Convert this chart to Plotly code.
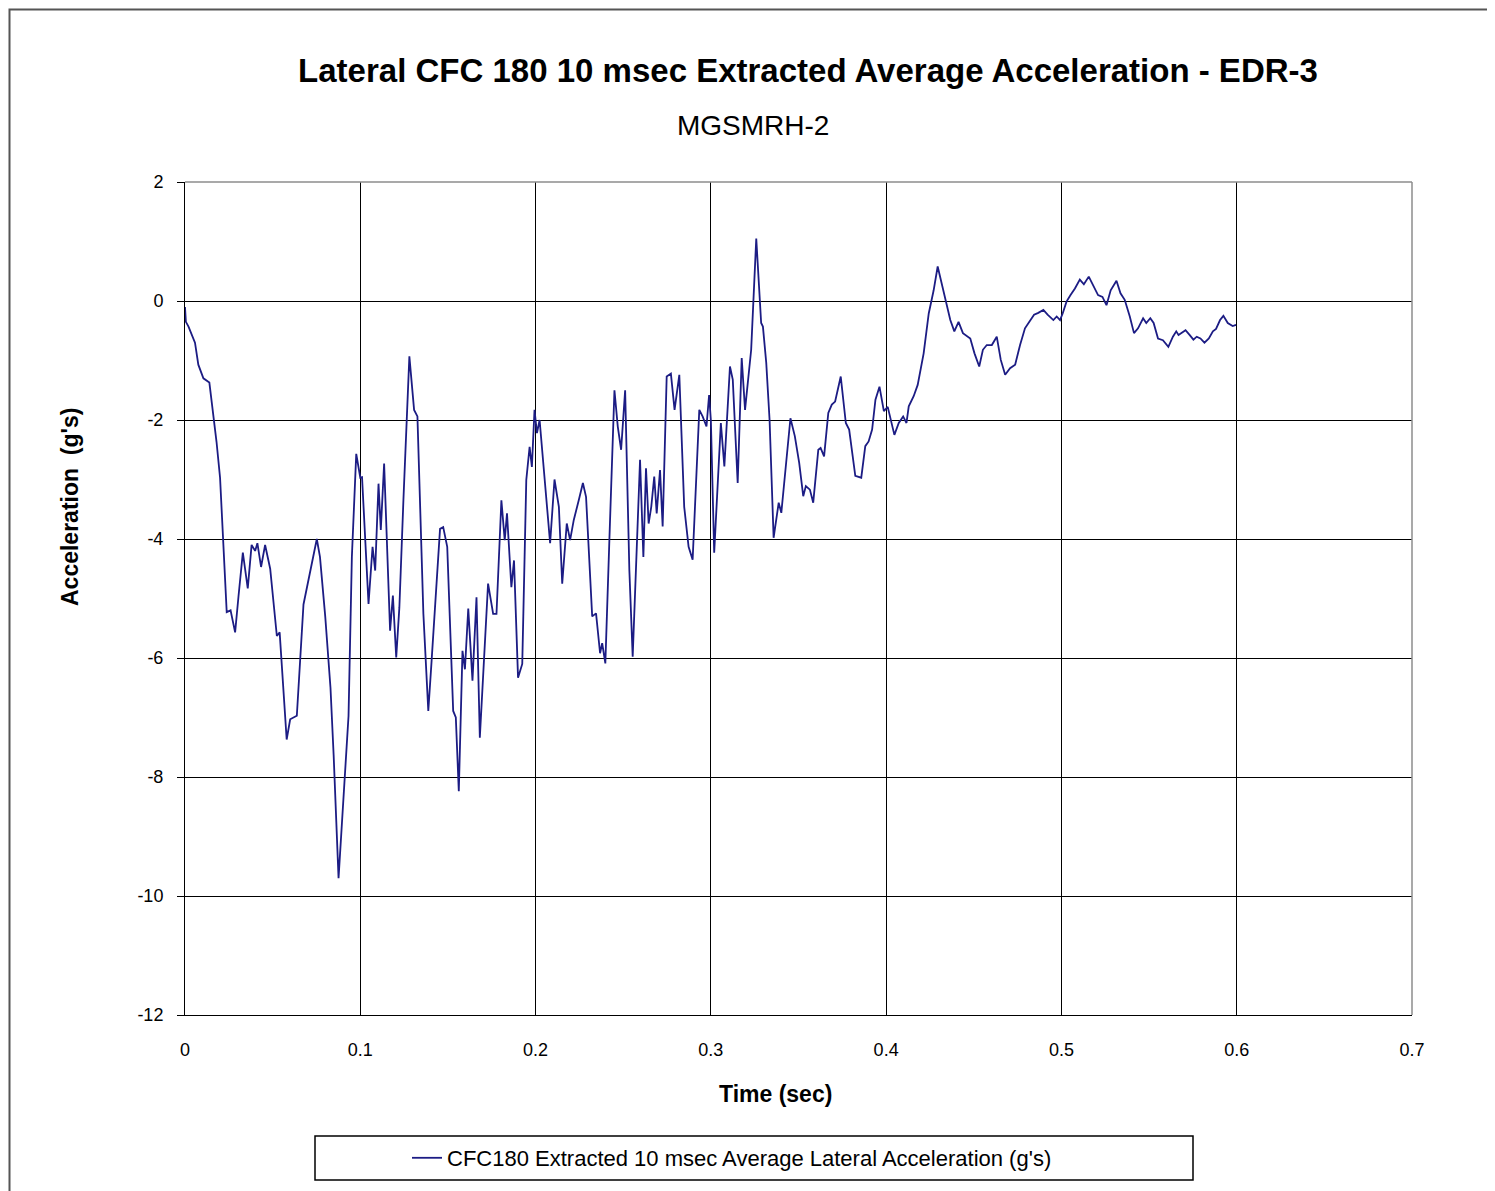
import plotly.graph_objects as go

time_s = [
    0.0, 0.0005, 0.002, 0.0057, 0.0076, 0.0105, 0.0139, 0.0162, 0.018, 0.020, 0.0215, 0.0238,
    0.026, 0.0286, 0.0305, 0.033, 0.0358, 0.038, 0.040, 0.0413, 0.0434, 0.0457, 0.0486,
    0.0524, 0.054, 0.058, 0.060, 0.0638, 0.0676, 0.0724, 0.0752, 0.077, 0.080, 0.083,
    0.0848, 0.0876, 0.0905, 0.0933, 0.0952, 0.0977, 0.100,
    0.101, 0.1047, 0.107, 0.1085, 0.1104, 0.1117, 0.1136, 0.117, 0.1186, 0.1205, 0.1223,
    0.1246, 0.128, 0.1307, 0.1326, 0.136, 0.1388, 0.1407, 0.1455, 0.1473, 0.1496, 0.153,
    0.1545, 0.1562, 0.1583, 0.1597, 0.1616, 0.164, 0.1663, 0.1682, 0.1705, 0.1729, 0.1758,
    0.1777, 0.1805, 0.1824, 0.1837, 0.1862, 0.1877, 0.19, 0.1924, 0.1947, 0.1966, 0.1979,
    0.1994, 0.2008, 0.2023, 0.2046, 0.2083, 0.2108, 0.2133, 0.2152, 0.2178, 0.2197, 0.2218,
    0.2247, 0.227, 0.2288, 0.2323, 0.2345, 0.2368, 0.238, 0.2398, 0.2421, 0.245, 0.2469,
    0.2488, 0.2511, 0.2535, 0.2554, 0.2573, 0.2596, 0.2615, 0.263, 0.2645, 0.266, 0.2677,
    0.2691, 0.271, 0.2725, 0.2748, 0.2772, 0.2793, 0.282, 0.2848, 0.2873, 0.2896, 0.2934,
    0.2953, 0.2975, 0.299, 0.3, 0.3019, 0.3038, 0.3057, 0.3077, 0.3109, 0.3125, 0.3153,
    0.3176, 0.3195, 0.323, 0.3259, 0.3287, 0.3297, 0.3316, 0.3335, 0.3358, 0.3387, 0.3402,
    0.3427, 0.3454, 0.3479, 0.3504, 0.3527, 0.3542, 0.3565, 0.3584, 0.3613, 0.3626, 0.3646,
    0.367, 0.369, 0.3709, 0.3741, 0.377, 0.3789, 0.3824, 0.3858, 0.3881, 0.39, 0.392,
    0.3939, 0.3962, 0.3987, 0.4009, 0.4047, 0.4072, 0.4097, 0.4116, 0.4129, 0.4157, 0.418,
    0.4214, 0.4243, 0.4271, 0.4294, 0.4313, 0.4337, 0.4366, 0.4389, 0.4413, 0.4438, 0.4464,
    0.448, 0.4504, 0.4531, 0.4552, 0.4574, 0.4603, 0.4631, 0.4654, 0.4679, 0.4707, 0.4736,
    0.4764, 0.4792, 0.4817, 0.4844, 0.4868, 0.4897, 0.4921, 0.4954, 0.4973, 0.4992, 0.5007,
    0.5029, 0.5052, 0.5077, 0.5105, 0.5128, 0.5156, 0.5181, 0.5209, 0.5234, 0.5257, 0.5281,
    0.5314, 0.5337, 0.5361, 0.539, 0.5414, 0.5437, 0.5466, 0.5484, 0.5507, 0.5526, 0.5551,
    0.5579, 0.561, 0.5636, 0.5655, 0.5668, 0.5708, 0.5731, 0.5753, 0.5772, 0.5793, 0.5816,
    0.5841, 0.5864, 0.5882, 0.5905, 0.5924, 0.5949, 0.5977, 0.5996,
]

accel_g = [
    -0.1, -0.35, -0.43, -0.7, -1.07, -1.3, -1.37, -1.9, -2.37, -2.97, -3.9, -5.23,
    -5.2, -5.57, -4.97, -4.23, -4.83, -4.1, -4.2, -4.07, -4.47, -4.1, -4.5,
    -5.63, -5.57, -7.37, -7.03, -6.97, -5.1, -4.37, -4.0, -4.3, -5.3, -6.5,
    -7.63, -9.7, -8.37, -6.97, -4.3, -2.57, -2.97,
    -2.96, -5.09, -4.13, -4.53, -3.07, -3.85, -2.73, -5.54, -4.95, -5.99, -5.15,
    -3.35, -0.93, -1.83, -1.94, -5.26, -6.89, -6.04, -3.83, -3.8, -4.13, -6.89,
    -7.0, -8.24, -5.88, -6.19, -5.17, -6.38, -4.98, -7.34, -6.04, -4.75, -5.26,
    -5.26, -3.35, -4.02, -3.57, -4.81, -4.36, -6.33, -6.1, -3.01, -2.45, -2.79,
    -1.83, -2.22, -2.0, -2.78, -4.07, -3.0, -3.46, -4.75, -3.74, -4.02, -3.68,
    -3.34, -3.06, -3.29, -5.3, -5.25, -5.92, -5.75, -6.09, -4.02, -1.5, -2.11,
    -2.5, -1.5, -4.52, -5.98, -4.58, -2.67, -4.3, -2.81, -3.74, -3.46, -2.95,
    -3.57, -2.84, -3.79, -1.27, -1.22, -1.83, -1.24, -3.46, -4.13, -4.35, -1.83,
    -1.94, -2.11, -1.58, -2.0, -4.23, -3.22, -2.05, -2.78, -1.1, -1.32, -3.06,
    -0.96, -1.83, -0.82, 1.05, -0.37, -0.43, -1.04, -2.0, -3.98, -3.39, -3.56,
    -2.83, -1.97, -2.27, -2.72, -3.28, -3.11, -3.17, -3.39, -2.5, -2.47, -2.61,
    -1.88, -1.74, -1.69, -1.27, -2.05, -2.16, -2.94, -2.97, -2.44, -2.36, -2.16,
    -1.66, -1.44, -1.85, -1.78, -2.25, -2.05, -1.94, -2.05, -1.77, -1.6, -1.41,
    -0.88, -0.21, 0.18, 0.58, 0.35, 0.07, -0.32, -0.51, -0.35, -0.54, -0.6,
    -0.63, -0.88, -1.1, -0.82, -0.74, -0.74, -0.6, -0.99, -1.24, -1.13, -1.07,
    -0.74, -0.46, -0.35, -0.23, -0.2, -0.15, -0.23, -0.32, -0.26, -0.32, -0.21,
    -0.01, 0.1, 0.21, 0.36, 0.28, 0.41, 0.27, 0.1, 0.07, -0.07, 0.18,
    0.34, 0.13, 0.02, -0.26, -0.54, -0.46, -0.29, -0.37, -0.29, -0.37, -0.63,
    -0.66, -0.77, -0.6, -0.51, -0.57, -0.49, -0.57, -0.65, -0.6, -0.63, -0.7,
    -0.63, -0.51, -0.47, -0.32, -0.25, -0.37, -0.42, -0.4,
]

x_tick_vals = [0, 0.1, 0.2, 0.3, 0.4, 0.5, 0.6, 0.7]
x_tick_text = ["0", "0.1", "0.2", "0.3", "0.4", "0.5", "0.6", "0.7"]
y_tick_vals = [2, 0, -2, -4, -6, -8, -10, -12]
y_tick_text = ["2", "0", "-2", "-4", "-6", "-8", "-10", "-12"]

FONT = "Liberation Sans, Arial, sans-serif"

fig = go.Figure()
fig.add_trace(go.Scatter(
    x=time_s, y=accel_g, mode="lines",
    name="CFC180 Extracted 10 msec Average Lateral Acceleration (g's)",
    line=dict(color="#1c1c84", width=1.8),
))

W, H = 1495, 1191
OFF = 8  # page body margin
# target screen positions of plot area: x 185..1412, y 182..1015
L = 185 - OFF
T = 182 - OFF
R = W - (1412 - OFF)
B = H - (1015 - OFF)
pw, ph = W - L - R, H - T - B

def px_x(p):
    return (p - OFF - L) / pw

def px_y(p):
    return (H - B - (p - OFF)) / ph

fig.update_layout(
    width=W, height=H,
    margin=dict(l=L, r=R, t=T, b=B),
    paper_bgcolor="white", plot_bgcolor="white",
    font=dict(family=FONT, color="black"),
    showlegend=True,
    legend=dict(
        x=px_x(407), y=px_y(1158), xanchor="left", yanchor="middle",
        bgcolor="rgba(0,0,0,0)", borderwidth=0,
        font=dict(size=22, family=FONT, color="black"),
    ),
    title=dict(
        text="<b>Lateral CFC 180 10 msec Extracted Average Acceleration - EDR-3</b>",
        x=px_x(808), xanchor="center", xref="paper",
        y=1 - (70 - OFF) / H, yanchor="middle", yref="container",
        font=dict(size=33, family=FONT, color="black"),
    ),
    xaxis=dict(
        range=[0, 0.7], tickvals=x_tick_vals, ticktext=x_tick_text,
        showgrid=True, gridcolor="black", gridwidth=1,
        showline=True, linecolor="black", linewidth=1,
        ticks="", ticklabelstandoff=18,
        tickfont=dict(size=18, family=FONT, color="black"),
        zeroline=False,
    ),
    yaxis=dict(
        range=[-12, 2], tickvals=y_tick_vals, ticktext=y_tick_text,
        showgrid=True, gridcolor="black", gridwidth=1,
        showline=True, linecolor="black", linewidth=1,
        ticks="outside", ticklen=7, tickcolor="black", ticklabelstandoff=10,
        tickfont=dict(size=18, family=FONT, color="black"),
        zeroline=False,
    ),
)

fig.add_annotation(
    text="MGSMRH-2", xref="paper", yref="paper",
    x=px_x(753), y=px_y(125), xanchor="center", yanchor="middle",
    showarrow=False, font=dict(size=28, family=FONT, color="black"),
)
fig.add_annotation(
    text="<b>Time (sec)</b>", xref="paper", yref="paper",
    x=px_x(775), y=px_y(1094), xanchor="center", yanchor="middle",
    showarrow=False, font=dict(size=23, family=FONT, color="black"),
)
fig.add_annotation(
    text="<b>Acceleration  (g's)</b>", xref="paper", yref="paper",
    x=px_x(70), y=px_y(507), xanchor="center", yanchor="middle", textangle=-90,
    showarrow=False, font=dict(size=23, family=FONT, color="black"),
)

# gray top and right plot border
fig.add_shape(type="line", xref="paper", yref="paper", x0=0, x1=1, y0=1, y1=1,
              line=dict(color="#8c8c8c", width=1.5), layer="above")
fig.add_shape(type="line", xref="paper", yref="paper", x0=1, x1=1, y0=0, y1=1,
              line=dict(color="#8c8c8c", width=1.5), layer="above")
# legend box
fig.add_shape(type="rect", xref="paper", yref="paper",
              x0=px_x(315), x1=px_x(1193), y0=px_y(1180), y1=px_y(1136),
              line=dict(color="black", width=1.5), fillcolor="rgba(0,0,0,0)")
# outer chart border (as close to the page edge as the figure allows)
fig.add_shape(type="rect", xref="paper", yref="paper",
              x0=px_x(9.5), x1=px_x(1540), y0=px_y(1240), y1=px_y(9.5),
              line=dict(color="#555555", width=2), fillcolor="rgba(0,0,0,0)")

fig.write_html("out.html")
